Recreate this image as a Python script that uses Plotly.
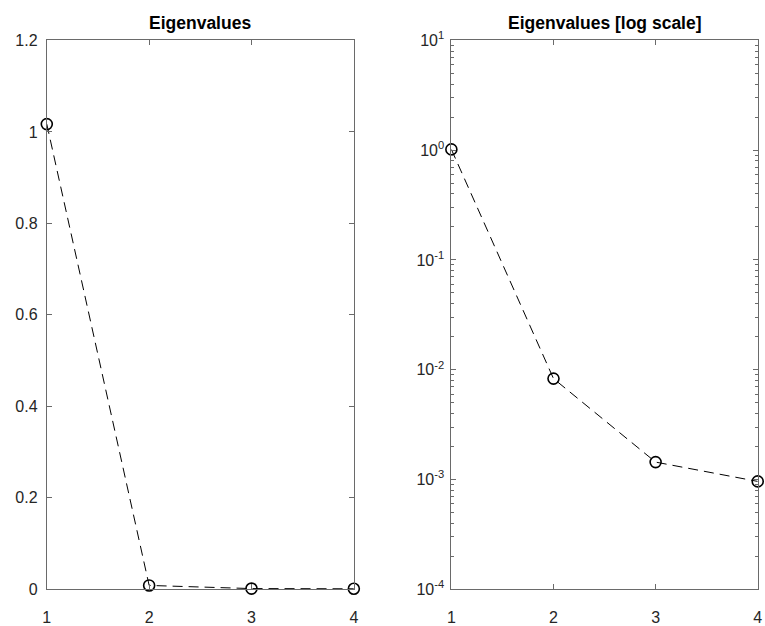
import plotly.graph_objects as go

# Data
x_index = [1, 2, 3, 4]
eigenvalues = [1.017, 0.0083, 0.00144, 0.00096]

left_title = "Eigenvalues"
right_title = "Eigenvalues [log scale]"

x_ticks = [1, 2, 3, 4]
y_ticks_lin = [0, 0.2, 0.4, 0.6, 0.8, 1.0, 1.2]
y_ticklabels_lin = ["0", "0.2", "0.4", "0.6", "0.8", "1", "1.2"]
log_exponents = [-4, -3, -2, -1, 0, 1]

W, H = 765, 626
axcol = "#6a6a6a"
font_family = "Liberation Sans, Arial, Helvetica, sans-serif"

log_tickvals = [10.0 ** e for e in log_exponents]
log_ticktext = ["10<sup>%s</sup>" % ("-%d" % -e if e < 0 else "%d" % e) for e in log_exponents]
minor_vals = [m * 10.0 ** e for e in log_exponents[:-1] for m in range(2, 10)]

line_style = dict(color="black", width=1, dash="10px,6px")
marker_style = dict(symbol="circle-open", size=11, color="black", line=dict(width=1.6, color="black"))

fig = go.Figure()
fig.add_trace(go.Scatter(x=x_index, y=eigenvalues, mode="lines+markers", line=line_style,
                         marker=marker_style, xaxis="x", yaxis="y", cliponaxis=False, showlegend=False))
fig.add_trace(go.Scatter(x=x_index, y=eigenvalues, mode="lines+markers", line=line_style,
                         marker=marker_style, xaxis="x2", yaxis="y2", cliponaxis=False, showlegend=False))

xl0, xl1 = 43.3 / W, 354.0 / W
xr0, xr1 = 452.7 / W, 762.7 / W
yb, yt = (H - 599.3) / H, (H - 30.5) / H

common = dict(showline=True, linecolor=axcol, linewidth=1, mirror="ticks", ticks="inside",
              tickcolor=axcol, ticklen=5, tickwidth=1, showgrid=False, zeroline=False,
              tickfont=dict(family=font_family, size=16, color="#262626"))

fig.update_layout(
    width=W, height=H, margin=dict(l=0, r=0, t=0, b=0),
    paper_bgcolor="white", plot_bgcolor="white",
    xaxis=dict(domain=[xl0, xl1], range=[1, 4], tickmode="array", tickvals=x_ticks,
               anchor="y", ticklabelstandoff=14, **common),
    yaxis=dict(domain=[yb, yt], range=[0, 1.2], tickmode="array", tickvals=y_ticks_lin,
               ticktext=y_ticklabels_lin, anchor="x", ticklabelstandoff=5, **common),
    xaxis2=dict(domain=[xr0, xr1], range=[1, 4], tickmode="array", tickvals=x_ticks,
                anchor="y2", ticklabelstandoff=14, **common),
    yaxis2=dict(domain=[yb, yt], type="log", range=[-4, 1], tickmode="array",
                tickvals=log_tickvals, ticktext=log_ticktext, anchor="x2", ticklabelstandoff=3,
                minor=dict(tickmode="array", tickvals=minor_vals, ticks="inside", ticklen=3,
                           tickcolor=axcol, showgrid=False),
                **common),
    annotations=[
        dict(text="<b>%s</b>" % left_title, x=(xl0 + xl1) / 2, y=yt, xref="paper", yref="paper",
             xanchor="center", yanchor="bottom", yshift=5, showarrow=False,
             font=dict(family=font_family, size=17.5, color="black")),
        dict(text="<b>%s</b>" % right_title, x=(xr0 + xr1) / 2, y=yt, xref="paper", yref="paper",
             xanchor="center", yanchor="bottom", yshift=5, showarrow=False,
             font=dict(family=font_family, size=17.5, color="black")),
    ],
)

fig.write_html("out.html",
               post_script="document.body.style.margin='0';document.body.style.overflow='hidden';")
